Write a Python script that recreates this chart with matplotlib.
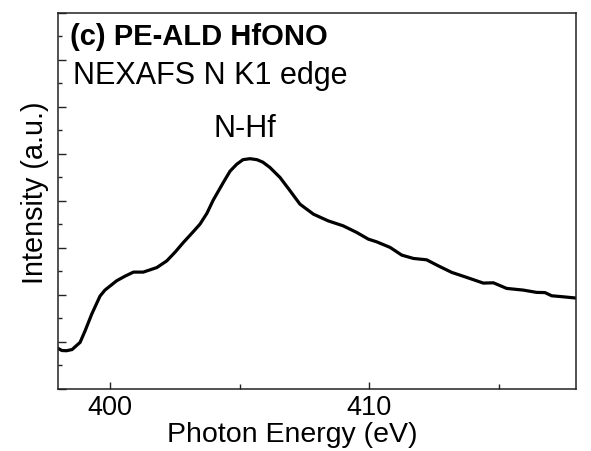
"""NEXAFS N K1 edge spectrum of PE-ALD HfONO, panel (c)."""
import matplotlib
matplotlib.use("Agg")
import matplotlib.pyplot as plt
from matplotlib.ticker import MultipleLocator, NullFormatter

# photon energy (eV) and intensity (a.u.)
energy = [398.00, 398.14, 398.32, 398.53, 398.84, 399.03, 399.29, 399.61, 399.80,
          400.25, 400.58, 400.90, 401.28, 401.80, 402.19, 402.51, 402.83, 403.16,
          403.47, 403.74, 403.98, 404.37, 404.63, 404.89, 405.13, 405.40, 405.67,
          405.90, 406.17, 406.56, 406.95, 407.33, 407.85, 408.42, 409.00, 409.52,
          409.97, 410.29, 410.81, 411.26, 411.71, 412.22, 412.67, 413.19, 413.77,
          414.41, 414.80, 415.31, 415.95, 416.47, 416.79, 417.05, 417.50, 418.00]
intensity = [0.855, 0.813, 0.809, 0.834, 0.987, 1.228, 1.589, 1.972, 2.100,
             2.298, 2.398, 2.483, 2.483, 2.579, 2.723, 2.909, 3.115, 3.313,
             3.504, 3.738, 4.015, 4.391, 4.632, 4.781, 4.877, 4.898, 4.877,
             4.823, 4.711, 4.498, 4.213, 3.930, 3.717, 3.574, 3.468, 3.328,
             3.185, 3.128, 3.009, 2.845, 2.774, 2.745, 2.617, 2.477, 2.370,
             2.249, 2.255, 2.136, 2.100, 2.051, 2.047, 1.979, 1.957, 1.930]

plt.rcParams["font.family"] = ["Liberation Sans", "DejaVu Sans"]

fig = plt.figure(figsize=(5.91, 4.52), dpi=100)
ax = fig.add_axes([0.0987, 0.1378, 0.8764, 0.8312])

ax.plot(energy, intensity, color="black", lw=2.3, solid_joinstyle="round")

ax.set_xlim(398, 418)
ax.set_ylim(0, 8)

ax.xaxis.set_major_locator(MultipleLocator(10))
ax.xaxis.set_minor_locator(MultipleLocator(5))
ax.yaxis.set_major_locator(MultipleLocator(1))
ax.yaxis.set_minor_locator(MultipleLocator(0.5))
ax.yaxis.set_major_formatter(NullFormatter())
ax.tick_params(which="both", direction="in", top=False, right=False,
               labelsize=19.5, width=1.0, color="#222222")
ax.tick_params(axis="x", which="major", length=5, pad=4)
ax.tick_params(axis="x", which="minor", length=3.5)
ax.tick_params(axis="y", which="major", length=5.5)
ax.tick_params(axis="y", which="minor", length=3)
for s in ax.spines.values():
    s.set_linewidth(1.1)
    s.set_color("#222222")

ax.set_xlabel("Photon Energy (eV)", fontsize=20.5)
ax.xaxis.set_label_coords(0.452, -0.087)
ax.set_ylabel("Intensity (a.u.)", fontsize=20.8)
ax.yaxis.set_label_coords(-0.018, 0.525)

ax.text(0.022, 0.939, "(c) PE-ALD HfONO", transform=ax.transAxes,
        fontsize=21, fontweight="bold", va="center", ha="left")
ax.text(0.028, 0.835, "NEXAFS N K1 edge", transform=ax.transAxes,
        fontsize=22, va="center", ha="left")
ax.text(405.2, 5.55, "N-Hf", fontsize=22, va="center", ha="center")

fig.savefig("out.png", dpi=100)
